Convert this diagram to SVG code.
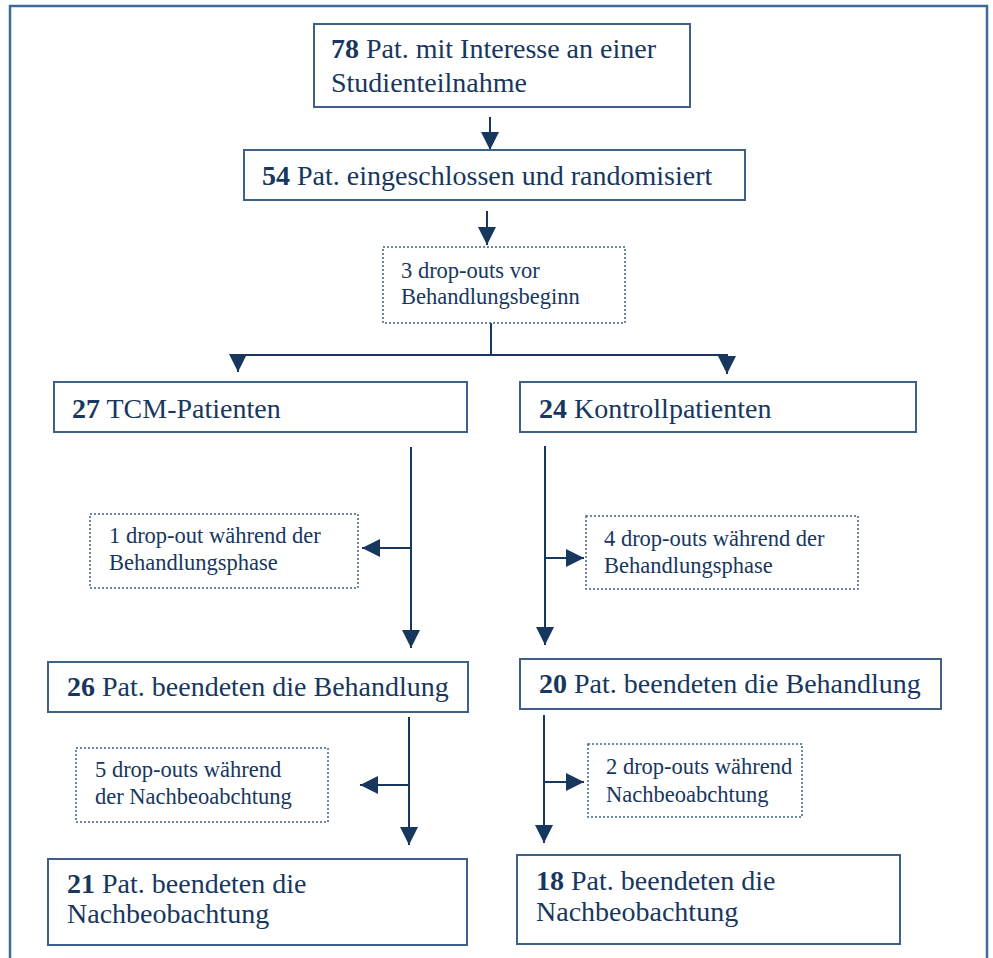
<svg xmlns="http://www.w3.org/2000/svg" width="993" height="958" viewBox="0 0 993 958">
<defs>
<marker id="ah" markerUnits="userSpaceOnUse" markerWidth="18" markerHeight="20" viewBox="0 0 18 20" refX="18" refY="9" orient="auto">
<path d="M0,0 L18,9 L0,18 Z" fill="#17375e"/>
</marker>
</defs>
<style>
.box{fill:#fff;stroke:#3d6188;stroke-width:2}
.dot{fill:#fff;stroke:#3d6188;stroke-width:1.5;stroke-dasharray:2 2}
.t{font-family:'Liberation Serif','Times New Roman',serif;font-size:28px;fill:#17375e}
.s{font-family:'Liberation Serif','Times New Roman',serif;font-size:22.5px;fill:#17375e}
.c{stroke:#17375e;stroke-width:2;fill:none}
.ca{stroke:#17375e;stroke-width:2;fill:none;marker-end:url(#ah)}
</style>
<rect width="993" height="958" fill="#fff"/>
<path d="M10,958 V6 H987 V958" fill="none" stroke="#3d6b99" stroke-width="2.5"/>
<g id="connectors">
<line class="ca" x1="490" y1="117" x2="490" y2="150"/>
<line class="ca" x1="487" y1="211" x2="487" y2="245"/>
<line class="c" x1="491" y1="323" x2="491" y2="355"/>
<line class="c" x1="238" y1="355" x2="727" y2="355"/>
<line class="ca" x1="238" y1="354" x2="238" y2="372"/>
<line class="ca" x1="727" y1="354" x2="727" y2="374"/>
<line class="ca" x1="411" y1="447" x2="411" y2="648"/>
<line class="ca" x1="411" y1="548" x2="362" y2="548"/>
<line class="ca" x1="545" y1="446" x2="545" y2="645"/>
<line class="ca" x1="545" y1="558" x2="584" y2="558"/>
<line class="ca" x1="409" y1="717" x2="409" y2="845"/>
<line class="ca" x1="409" y1="785" x2="360" y2="785"/>
<line class="ca" x1="544" y1="715" x2="544" y2="843"/>
<line class="ca" x1="544" y1="782" x2="584" y2="782"/>
</g>
<g id="n78">
<rect class="box" x="314" y="24" width="376" height="83"/>
<text class="t" x="331" y="58"><tspan font-weight="bold">78</tspan> Pat. mit Interesse an einer</text>
<text class="t" x="331" y="92">Studienteilnahme</text>
</g>
<g id="n54">
<rect class="box" x="244" y="150" width="501" height="50"/>
<text class="t" x="262" y="185"><tspan font-weight="bold">54</tspan> Pat. eingeschlossen und randomisiert</text>
</g>
<g id="d3">
<rect class="dot" x="383" y="247" width="242" height="76"/>
<text class="s" x="401" y="278">3 drop-outs vor</text>
<text class="s" x="401" y="304">Behandlungsbeginn</text>
</g>
<g id="n27">
<rect class="box" x="54" y="382" width="413" height="50"/>
<text class="t" x="72" y="418"><tspan font-weight="bold">27</tspan> TCM-Patienten</text>
</g>
<g id="n24">
<rect class="box" x="520" y="382" width="396" height="50"/>
<text class="t" x="539" y="418"><tspan font-weight="bold">24</tspan> Kontrollpatienten</text>
</g>
<g id="d1">
<rect class="dot" x="90" y="514" width="268" height="74"/>
<text class="s" x="109" y="543">1 drop-out während der</text>
<text class="s" x="109" y="570">Behandlungsphase</text>
</g>
<g id="d4">
<rect class="dot" x="586" y="516" width="272" height="73"/>
<text class="s" x="604" y="546">4 drop-outs während der</text>
<text class="s" x="604" y="573">Behandlungsphase</text>
</g>
<g id="n26">
<rect class="box" x="48" y="662" width="420" height="50"/>
<text class="t" x="67" y="696"><tspan font-weight="bold">26</tspan> Pat. beendeten die Behandlung</text>
</g>
<g id="n20">
<rect class="box" x="520" y="659" width="421" height="50"/>
<text class="t" x="539" y="693"><tspan font-weight="bold">20</tspan> Pat. beendeten die Behandlung</text>
</g>
<g id="d5">
<rect class="dot" x="76" y="748" width="252" height="74"/>
<text class="s" x="95" y="777">5 drop-outs während</text>
<text class="s" x="95" y="804">der Nachbeoabchtung</text>
</g>
<g id="d2">
<rect class="dot" x="588" y="744" width="214" height="73"/>
<text class="s" x="606" y="774">2 drop-outs während</text>
<text class="s" x="606" y="802">Nachbeoabchtung</text>
</g>
<g id="n21">
<rect class="box" x="48" y="859" width="419" height="86"/>
<text class="t" x="67" y="893"><tspan font-weight="bold">21</tspan> Pat. beendeten die</text>
<text class="t" x="67" y="923">Nachbeobachtung</text>
</g>
<g id="n18">
<rect class="box" x="517" y="855" width="383" height="89"/>
<text class="t" x="536" y="890"><tspan font-weight="bold">18</tspan> Pat. beendeten die</text>
<text class="t" x="536" y="921">Nachbeobachtung</text>
</g>
</svg>
